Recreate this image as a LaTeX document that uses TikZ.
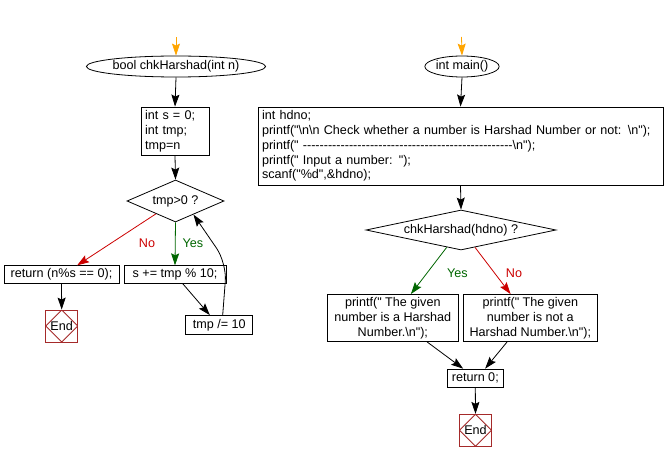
\documentclass[tikz,border=0pt]{standalone}
\usepackage{fontspec}
\setmainfont{Liberation Sans}[Ligatures=TeXOff]
\usetikzlibrary{arrows.meta,shapes.geometric,calc}
\definecolor{startorange}{HTML}{FFA500}
\definecolor{yesgreen}{HTML}{006600}
\definecolor{nored}{HTML}{CC0000}
\definecolor{endred}{HTML}{A52A2A}
\newcommand{\bs}{\textbackslash}
\begin{document}
\begin{tikzpicture}[x=1pt,y=-1pt,
  font=\fontsize{12.6}{14.8}\selectfont,
  line width=0.8pt,
  arr/.style={-{Stealth[length=12pt,width=8pt,inset=2pt]}},
  ellnode/.style={draw,ellipse,inner sep=0pt},
  codebox/.style={draw,rectangle,inner xsep=4pt,inner ysep=1pt,align=left},
  cbox/.style={draw,rectangle,inner sep=0pt,align=center},
  decision/.style={draw,diamond,inner sep=0pt},
  endnode/.style={draw=endred,rectangle,minimum width=32pt,minimum height=32pt,inner sep=0pt,
    path picture={\draw[endred,line width=0.8pt] (path picture bounding box.north) -- (path picture bounding box.east) -- (path picture bounding box.south) -- (path picture bounding box.west) -- cycle;}},
  lbl/.style={inner sep=0pt}
]
\useasboundingbox (0,0) rectangle (666,462);
\fill[white] (0,0) rectangle (666,462);

% ---------- left flow ----------
\coordinate (sf) at (176,37);
\node[ellnode,minimum width=148pt,minimum height=21pt] (f) at (176,66.5) {bool chkHarshad(int n)};
\node[codebox,minimum width=68pt,minimum height=48pt,text width=60pt] (b1) at (175,131) {int s = 0;\\int tmp;\\tmp=n};
\node[decision,aspect=2.3,minimum width=97pt,minimum height=42pt] (d1) at (175.5,201) {tmp>0 ?};
\node[cbox,minimum width=115pt,minimum height=17.5pt] (r1) at (61.5,274.5) {return (n\%s == 0);};
\node[cbox,minimum width=102pt,minimum height=17.5pt] (s1) at (175,274.5) {s += tmp \% 10;};
\node[cbox,minimum width=67pt,minimum height=19pt] (t1) at (219.3,325) {tmp /= 10};
\node[endnode] (e1) at (61.7,326) {End};

\draw[arr,startorange] (sf) -- (f.north);
\draw[arr] (f.south) -- (b1.north);
\draw[arr] (b1.south) -- (d1.north);
\draw[arr,nored] ($(d1.west)!0.6!(d1.south)$) -- ($(r1.north west)!0.635!(r1.north east)$);
\node[lbl,text=nored] (no1) at (147,243) {No};
\draw[arr,yesgreen] (d1.south) -- (s1.north);
\node[lbl,text=yesgreen] (yes1) at (193,243) {Yes};
\draw[arr] (r1.south) -- (e1.north);
\draw[arr] ($(s1.south west)!0.575!(s1.south east)$) -- ($(t1.north west)!0.36!(t1.north east)$);
\draw[arr,rounded corners=18pt] ($(t1.north west)!0.55!(t1.north east)$) -- (226.7,263) -- ($(d1.south)!0.367!(d1.east)$);

% ---------- right flow ----------
\coordinate (sm) at (461.5,37);
\node[ellnode,minimum width=72pt,minimum height=21pt] (m) at (462,66.5) {int main()};
\node[codebox,minimum width=405pt,minimum height=78pt,text width=397pt] (big) at (460.5,146) {int hdno;\\printf("\bs n\bs n Check whether a number is Harshad Number or not: \bs n");\\printf(" --------------------------------------------------\bs n");\\printf(" Input a number: ");\\scanf("\%d",\&hdno);};
\node[decision,aspect=4.75,minimum width=190pt,minimum height=40pt] (d2) at (461,230) {chkHarshad(hdno) ?};
\node[cbox,minimum width=131pt,minimum height=47pt] (p1) at (392.8,318) {printf(" The given\\number is a Harshad\\Number.\bs n");};
\node[cbox,minimum width=134pt,minimum height=47pt] (p2) at (530.3,318) {printf(" The given\\number is not a\\Harshad Number.\bs n");};
\node[cbox,minimum width=56pt,minimum height=18.3pt] (ret) at (475.3,378.2) {return 0;};
\node[endnode] (e2) at (475.5,430.3) {End};

\draw[arr,startorange] (sm) -- (m.north);
\draw[arr] (m.south) -- (big.north);
\draw[arr] (big.south) -- (d2.north);
\draw[arr,yesgreen] ($(d2.west)!0.85!(d2.south)$) -- ($(p1.north west)!0.637!(p1.north east)$);
\node[lbl,text=yesgreen] (yes2) at (457.3,273.3) {Yes};
\draw[arr,nored] ($(d2.south)!0.147!(d2.east)$) -- ($(p2.north west)!0.354!(p2.north east)$);
\node[lbl,text=nored] (no2) at (514,273) {No};
\draw[arr] ($(p1.south west)!0.76!(p1.south east)$) -- ($(ret.north west)!0.286!(ret.north east)$);
\draw[arr] ($(p2.south west)!0.328!(p2.south east)$) -- ($(ret.north west)!0.673!(ret.north east)$);
\draw[arr] (ret.south) -- (e2.north);
\end{tikzpicture}
\end{document}
